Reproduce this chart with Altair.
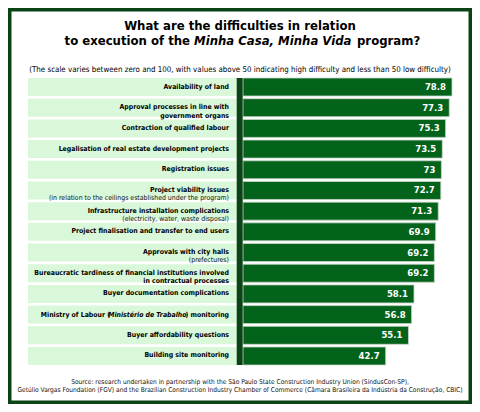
import altair as alt
import pandas as pd

# ---- data ----
bold_lines = [
    ["Availability of land"],
    ["Approval processes in line with", "government organs"],
    ["Contraction of qualified labour"],
    ["Legalisation of real estate development projects"],
    ["Registration issues"],
    ["Project viability issues"],
    ["Infrastructure installation complications"],
    ["Project finalisation and transfer to end users"],
    ["Approvals with city halls"],
    ["Bureaucratic tardiness of financial institutions involved", "in contractual processes"],
    ["Buyer documentation complications"],
    [""],
    ["Buyer affordability questions"],
    ["Building site monitoring"],
]
notes = ["", "", "", "", "",
         "(in relation to the ceilings established under the program)",
         "(electricity, water, waste disposal)",
         "", "(prefectures)", "", "", "", "", ""]
values = [78.8, 77.3, 75.3, 73.5, 73, 72.7, 71.3, 69.9, 69.2, 69.2, 58.1, 56.8, 55.1, 42.7]
ministry_parts = ["Ministry of Labour (", "Ministério de Trabalho", ") monitoring"]

title_line1 = "What are the difficulties in relation"
title_line2 = ["to execution of the", "Minha Casa, Minha Vida", "program?"]
subtitle = "(The scale varies between zero and 100, with values above 50 indicating high difficulty and less than 50 low difficulty)"
source_lines = [
    "Source: research undertaken in partnership with the São Paulo State Construction Industry Union (SindusCon-SP),",
    "Getúlio Vargas Foundation (FGV) and the Brazilian Construction Industry Chamber of Commerce (Câmara Brasileira da Indústria da Construção, CBIC)",
]

keys = [f"r{i:02d}" for i in range(len(values))]
rows = []
for k, b, n, v in zip(keys, bold_lines, notes, values):
    if n:
        bt, nt = [b[0], ""], ["", n]
    else:
        bt, nt = b, [""]
    rows.append({"key": k, "bold": bt, "note": nt, "value": v})
df = pd.DataFrame(rows)

FONT = "DejaVu Sans Condensed, DejaVu Sans, sans-serif"
DARK = "#0a4414"
BAR = "#03631a"
LIGHT = "#d9f7d9"
INK = "#000000"
LS = 6.9  # label font size

W, H = 464, 396
yscale = alt.Scale(domain=keys, range=[70, 357], paddingInner=0.13, paddingOuter=0)
xscale = alt.Scale(domain=[-35, 85], range=[235, 455.4])
Y = alt.Y("key:N", scale=yscale, axis=None)

base = alt.Chart(df)

boxes = base.mark_rect(color=LIGHT).encode(
    y=Y, x=alt.value(20), x2=alt.value(228.7))

bars = base.mark_bar(color=BAR, stroke="#c9d6c9", strokeWidth=0.8).encode(
    y=Y, x=alt.X("value:Q", scale=xscale, axis=None), x2=alt.datum(-35))

divider = alt.Chart(pd.DataFrame({"a": [0]})).mark_rect(color=DARK).encode(
    x=alt.value(228.7), x2=alt.value(234.7), y=alt.value(70), y2=alt.value(357))

vals = base.mark_text(align="right", baseline="middle", dx=-6, color="white",
                      font=FONT, fontWeight="bold", fontSize=9.5).encode(
    y=Y, x=alt.X("value:Q", scale=xscale, axis=None), text=alt.Text("value:Q"))

lab_bold = base.mark_text(align="right", baseline="middle", font=FONT, fontWeight="bold",
                          fontSize=LS, lineHeight=8.4, dy=-0.5, color=INK).encode(
    y=Y, x=alt.value(221), text="bold")
lab_note = base.mark_text(align="right", baseline="middle", font=FONT,
                          fontSize=LS, lineHeight=8.4, dy=-0.5, color="#111").encode(
    y=Y, x=alt.value(221), text="note")

mdf = pd.DataFrame({"key": [keys[11]] * 3, "part": ministry_parts})
mbase = alt.Chart(mdf)
m1 = mbase.transform_filter(alt.datum.part == ministry_parts[2]).mark_text(
    align="right", baseline="middle", font=FONT, fontWeight="bold", fontSize=LS, color=INK).encode(
    y=Y, x=alt.value(221), text="part")
m2 = mbase.transform_filter(alt.datum.part == ministry_parts[1]).mark_text(
    align="right", baseline="middle", font=FONT, fontWeight="bold", fontStyle="italic", fontSize=LS, color=INK).encode(
    y=Y, x=alt.value(178.5), text="part")
m3 = mbase.transform_filter(alt.datum.part == ministry_parts[0]).mark_text(
    align="right", baseline="middle", font=FONT, fontWeight="bold", fontSize=LS, color=INK).encode(
    y=Y, x=alt.value(102), text="part")

TS = 13
t1 = alt.Chart(pd.DataFrame({"t": [title_line1]})).mark_text(
    align="center", baseline="alphabetic", font=FONT, fontWeight="bold", fontSize=TS, color=INK).encode(
    x=alt.value(232), y=alt.value(22), text="t")
t2df = pd.DataFrame({"t": title_line2})
t2a = alt.Chart(t2df).transform_filter(alt.datum.t == title_line2[0]).mark_text(
    align="right", baseline="alphabetic", font=FONT, fontWeight="bold", fontSize=TS, color=INK).encode(
    x=alt.value(182), y=alt.value(37), text="t")
t2b = alt.Chart(t2df).transform_filter(alt.datum.t == title_line2[1]).mark_text(
    align="left", baseline="alphabetic", font=FONT, fontWeight="bold", fontStyle="italic", fontSize=TS, color=INK).encode(
    x=alt.value(186), y=alt.value(37), text="t")
t2c = alt.Chart(t2df).transform_filter(alt.datum.t == title_line2[2]).mark_text(
    align="left", baseline="alphabetic", font=FONT, fontWeight="bold", fontSize=TS, color=INK).encode(
    x=alt.value(349), y=alt.value(37), text="t")
sub = alt.Chart(pd.DataFrame({"t": [subtitle]})).mark_text(
    align="center", baseline="alphabetic", font=FONT, fontSize=7.9, color=INK).encode(
    x=alt.value(232), y=alt.value(64), text="t")
src = alt.Chart(pd.DataFrame({"t": [source_lines]})).mark_text(
    align="center", baseline="alphabetic", font=FONT, fontSize=6.6, lineHeight=8.5, color="#111").encode(
    x=alt.value(232), y=alt.value(375.5), text="t")

chart = alt.layer(
    boxes, bars, divider, vals, lab_bold, lab_note, m1, m2, m3,
    t1, t2a, t2b, t2c, sub, src
).properties(
    width=W, height=H, padding=0, autosize=alt.AutoSizeParams(type="none"),
    background="white"
).configure_view(stroke=DARK, strokeWidth=7)

chart.save("out.html", embed_options={"renderer": "svg", "actions": False})
